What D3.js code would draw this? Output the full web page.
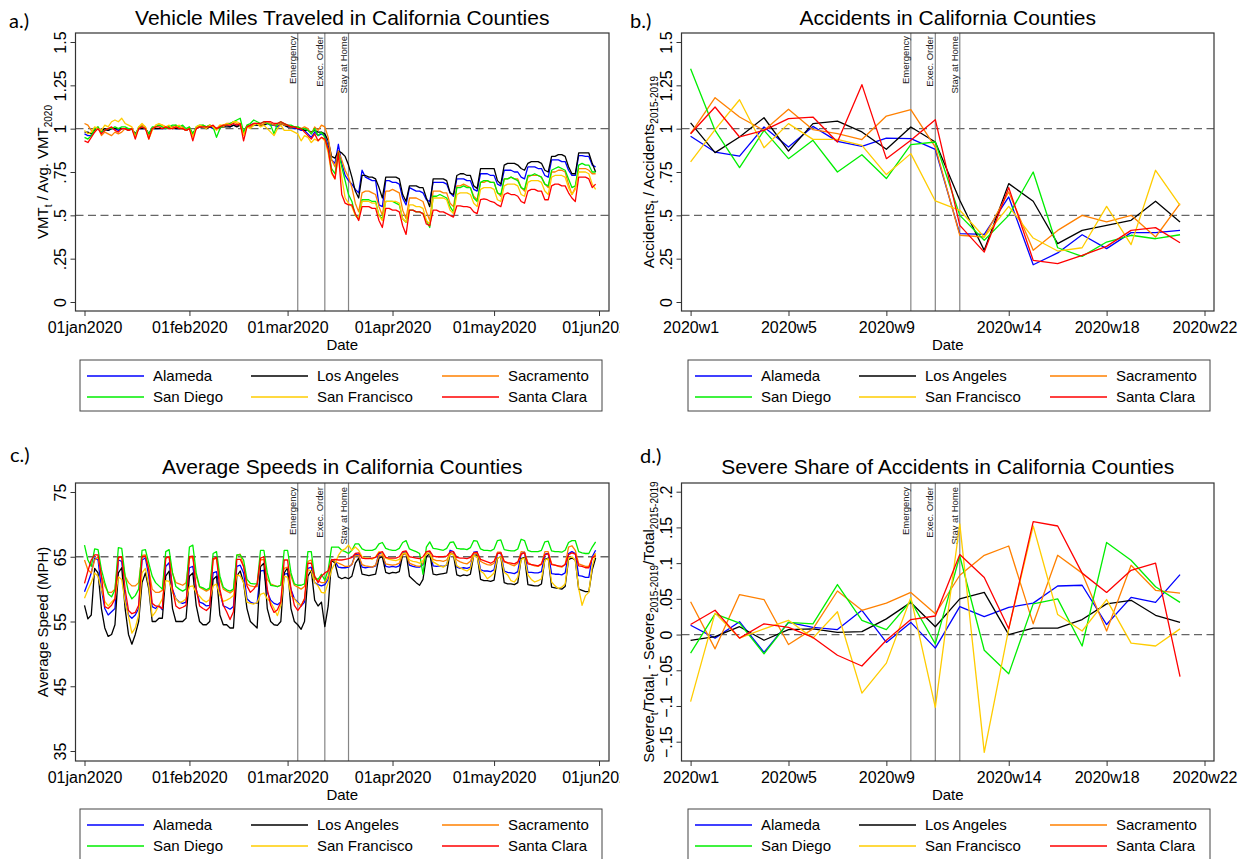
<!DOCTYPE html>
<html>
<head>
<meta charset="utf-8">
<script src="https://cdn.jsdelivr.net/npm/d3@7"></script>
<style>
  body { margin: 0; background: #fff; }
  svg text { font-family: "Liberation Sans", Arial, Helvetica, sans-serif; fill: #000; }
</style>
</head>
<body>
<svg id="chart" width="1238" height="859"></svg>
<script>
const counties = ['Alameda', 'Los Angeles', 'Sacramento', 'San Diego', 'San Francisco', 'Santa Clara'];
const colors = ['#0000ff', '#000000', '#ff8000', '#00ee00', '#ffcc00', '#ff0000'];

const weeks = [1, 2, 3, 4, 5, 6, 7, 8, 9, 10, 11, 12, 13, 14, 15, 16, 17, 18, 19, 20, 21];
const weekTicks = [1, 5, 9, 14, 18, 22];
const dateTicks = ['2020-01-01', '2020-02-01', '2020-03-01', '2020-04-01', '2020-05-01', '2020-06-01'];
const eventDates = ['2020-03-04', '2020-03-12', '2020-03-19'];
const eventWeeks = [10, 11, 12];
const eventNames = ['Emergency', 'Exec. Order', 'Stay at Home'];

// VMT relative to 2020 average, daily 01jan2020 - 31may2020
const vmtAlameda = [
  .97, .96, .96, .99, 1.00, .98, .99, .99, 1.00, 1.00, .99, 1.00, 1.00, .99, 1.00, .96, 1.00, 1.00, 1.00, .97,
  1.00, 1.00, 1.00, 1.00, 1.00, 1.01, 1.01, 1.00, 1.00, 1.01, .99, 1.00, .97, 1.00, 1.01, 1.01, 1.01, 1.01, 1.00, 1.00,
  1.01, 1.01, 1.02, 1.01, 1.02, 1.02, 1.02, .98, 1.01, 1.02, 1.03, 1.02, 1.02, 1.02, 1.03, 1.02, 1.02, 1.01, 1.03, 1.02,
  1.01, 1.01, 1.00, 1.00, .99, .99, .97, .95, .98, .96, .97, .96, .90, .82, .80, .91, .80, .73, .70, .68, .65, .63,
  .76, .72, .71, .70, .70, .56, .55,
  .70, .70, .69, .69, .68, .60, .56,
  .66, .65, .64, .64, .63, .59, .58,
  .69, .69, .69, .69, .68, .63, .61,
  .71, .71, .71, .70, .70, .65, .64,
  .74, .74, .74, .73, .73, .68, .67,
  .76, .76, .76, .75, .75, .72, .71,
  .78, .78, .78, .77, .77, .73, .72,
  .82, .82, .82, .81, .81, .76, .73,
  .73, .845, .845, .84, .84, .79, .78];
const vmtLosAngeles = [
  .98, .98, .97, .99, 1.00, .99, 1.00, .99, 1.00, 1.00, 1.00, 1.00, 1.00, .99, 1.00, .97, 1.00, 1.00, 1.00, .97,
  1.00, 1.00, 1.00, 1.00, 1.01, 1.01, 1.00, 1.00, 1.00, 1.00, .99, 1.00, .97, 1.00, 1.01, 1.01, 1.00, 1.01, 1.01, 1.00,
  1.01, 1.01, 1.01, 1.01, 1.02, 1.01, 1.02, .98, 1.01, 1.01, 1.02, 1.02, 1.02, 1.02, 1.03, 1.03, 1.02, 1.02, 1.03, 1.02,
  1.01, 1.01, 1.01, 1.00, 1.00, .99, .99, .98, .99, .98, .98, .97, .93, .84, .83, .87, .86, .84, .79, .72, .64, .60,
  .73, .73, .72, .72, .71, .66, .60,
  .72, .72, .72, .72, .71, .62, .58,
  .67, .67, .67, .66, .66, .60, .55,
  .71, .71, .71, .71, .70, .63, .62,
  .73, .74, .74, .73, .73, .67, .655,
  .77, .77, .77, .77, .77, .70, .68,
  .79, .80, .80, .80, .79, .77, .76,
  .80, .81, .81, .81, .80, .76, .75,
  .84, .84, .85, .85, .84, .78, .74,
  .74, .86, .86, .86, .86, .80, .75];
const vmtSacramento = [
  1.03, 1.02, .99, .98, 1.01, .96, .98, .97, .96, .98, .97, .98, 1.00, .99, 1.00, .96, 1.00, 1.02, 1.01, .95,
  1.00, 1.01, 1.02, 1.02, 1.01, 1.00, 1.01, 1.02, 1.00, 1.01, .99, 1.01, .96, 1.00, 1.01, 1.02, 1.01, 1.02, 1.01, 1.00,
  1.02, 1.01, 1.03, 1.03, 1.04, 1.03, 1.02, .97, 1.02, 1.01, 1.03, 1.03, 1.02, 1.03, 1.03, 1.03, 1.02, 1.02, 1.03, 1.02,
  1.02, 1.01, 1.01, 1.01, 1.00, 1.01, 1.00, .97, 1.01, .99, 1.02, 1.01, .95, .82, .78, .87, .82, .76, .72, .66, .57, .52,
  .63, .64, .64, .63, .62, .55, .50,
  .64, .64, .65, .64, .63, .53, .48,
  .60, .60, .60, .59, .58, .52, .47,
  .64, .64, .64, .63, .63, .57, .55,
  .67, .67, .68, .67, .66, .61, .59,
  .69, .69, .70, .69, .69, .63, .61,
  .71, .71, .72, .71, .71, .66, .64,
  .72, .73, .73, .73, .72, .68, .66,
  .75, .75, .76, .76, .75, .68, .62,
  .66, .77, .77, .77, .76, .74, .74];
const vmtSanDiego = [
  .95, .94, .96, 1.00, 1.01, .98, .99, 1.00, 1.00, 1.01, 1.00, 1.01, 1.01, 1.00, 1.00, .96, 1.01, 1.01, 1.00, .97,
  1.01, 1.01, 1.02, 1.01, 1.00, 1.01, 1.02, 1.02, 1.01, 1.02, 1.00, 1.01, .97, 1.01, 1.02, 1.02, 1.01, 1.02, 1.01, .95,
  1.00, 1.02, 1.02, 1.03, 1.04, 1.05, 1.06, .98, 1.02, 1.03, 1.05, 1.04, 1.03, 1.04, 1.03, 1.02, .97, 1.03, 1.04, 1.03,
  1.02, 1.02, 1.01, 1.01, 1.00, 1.00, .99, .97, 1.00, .96, .98, .95, .88, .77, .74, .86, .78, .70, .62, .58, .50, .48,
  .59, .59, .59, .58, .58, .50, .48,
  .58, .58, .58, .57, .56, .48, .46,
  .53, .53, .52, .52, .51, .47, .43,
  .61, .61, .62, .61, .60, .55, .52,
  .66, .66, .67, .66, .66, .60, .58,
  .69, .70, .70, .69, .69, .63, .62,
  .71, .71, .72, .71, .70, .66, .65,
  .73, .73, .74, .73, .72, .68, .67,
  .76, .77, .78, .77, .76, .71, .66,
  .67, .79, .80, .79, .79, .75, .75];
const vmtSanFrancisco = [
  .99, .97, .98, 1.01, 1.00, .99, 1.02, 1.01, 1.04, 1.05, 1.04, 1.06, 1.03, 1.02, 1.01, .95, 1.01, 1.03, 1.01, .94,
  .99, 1.02, 1.03, 1.02, 1.01, 1.02, 1.00, 1.01, 1.02, 1.00, .99, 1.00, .95, 1.01, 1.02, 1.01, 1.00, 1.02, 1.01, .99,
  1.02, 1.02, 1.03, 1.02, 1.04, 1.04, 1.03, .96, 1.01, 1.00, 1.02, 1.03, 1.01, 1.02, 1.00, .98, .96, 1.00, 1.02, .99,
  .99, .99, .98, .97, .93, .96, .95, .92, .94, .93, .95, .93, .86, .74, .71, .84, .72, .60, .57, .55, .50, .48,
  .58, .58, .58, .57, .57, .50, .47,
  .58, .58, .58, .58, .57, .48, .46,
  .56, .56, .55, .55, .54, .47, .45,
  .60, .60, .60, .60, .59, .53, .51,
  .62, .63, .63, .63, .62, .57, .55,
  .65, .66, .66, .66, .65, .59, .58,
  .67, .68, .68, .68, .67, .62, .61,
  .69, .70, .70, .70, .69, .64, .62,
  .72, .73, .73, .73, .72, .66, .62,
  .65, .75, .75, .75, .74, .68, .65];
const vmtSantaClara = [
  .93, .92, .95, .98, 1.00, .97, .99, 1.00, 1.01, .99, .98, 1.00, 1.00, .99, 1.00, .94, 1.00, 1.01, 1.00, .94,
  1.00, 1.01, 1.01, 1.00, 1.01, 1.00, 1.00, 1.01, 1.00, 1.00, .99, 1.00, .93, 1.00, 1.01, 1.01, 1.01, 1.01, 1.02, 1.00,
  1.01, 1.02, 1.02, 1.02, 1.03, 1.02, 1.03, .93, 1.01, 1.02, 1.03, 1.03, 1.03, 1.04, 1.04, 1.04, 1.03, 1.03, 1.04, 1.03,
  1.02, 1.01, 1.01, 1.00, 1.00, .98, .96, .94, .97, .93, .95, .94, .88, .75, .71, .86, .62, .57, .56, .56, .51, .47,
  .55, .55, .55, .54, .54, .47, .43,
  .54, .54, .53, .53, .52, .44, .39,
  .53, .53, .52, .52, .51, .45, .44,
  .53, .53, .52, .52, .51, .50, .49,
  .555, .555, .55, .55, .545, .52, .51,
  .59, .595, .59, .58, .575, .56, .55,
  .62, .63, .62, .62, .61, .58, .57,
  .64, .65, .65, .64, .64, .59, .59,
  .67, .68, .68, .67, .67, .63, .60,
  .58, .72, .72, .72, .71, .66, .68];

// average speed (MPH), daily 01jan2020 - 31may2020
const spdAlameda = [
  59.6, 61, 62.5, 64.8, 64.5,
  60, 57, 56, 56.5, 57, 64.5, 64.3,
  58.5, 56, 55.5, 56, 57, 64.5, 64.8,
  62, 57.3, 57, 57.5, 56.8, 63.5, 64.1,
  60, 58.5, 58, 57.8, 58, 63.3, 63.5,
  60, 58, 57.8, 57.4, 57.5, 62.5, 62.7,
  59.5, 57.4, 57.2, 56.9, 57.3, 63.5, 63.7,
  62.5, 58.5, 58, 57.8, 57.8, 62.8, 62.9,
  59.5, 58.3, 57.8, 57.6, 58, 62.3, 62.4,
  60, 58.5, 58, 57.4, 58, 63.2, 63.4,
  61, 60.7, 60.5, 60.7, 61.5, 64.6, 64.3,
  63.4, 63.3, 63.3, 63.4, 63.8, 65.4, 65.3,
  63.4, 63.3, 63.4, 63.4, 63.6, 65.5, 65.6,
  63.5, 63.4, 63.5, 63.4, 63.6, 65.6, 65.8,
  63.7, 63.5, 63.4, 63.4, 63.8, 65.8, 65.8,
  63.6, 63.5, 63.6, 63.5, 63.7, 66, 65.8,
  63.4, 63.2, 63.3, 63.2, 63.4, 65.7, 65.8,
  63, 62.8, 62.8, 62.7, 63, 65.5, 65.6,
  62.8, 62.6, 62.5, 62.4, 62.7, 65.5, 65.7,
  62.6, 62.6, 62.5, 62.5, 62.7, 65.4, 65.5,
  62.4, 62.3, 62.3, 62.2, 62.5, 65.5, 65.8,
  65.5, 62.1, 62, 61.8, 61.8, 65, 66];
const spdLosAngeles = [
  57.5, 55.4, 56, 63.2, 62.5,
  57, 54, 52.7, 53, 54.5, 62.5, 63.3,
  57, 53, 51.5, 53, 55, 61, 62.5,
  60, 55, 55, 55.5, 55.5, 62, 62.8,
  57, 55, 55, 55, 55.5, 62, 62.5,
  57.5, 55, 54.5, 54.5, 55, 61.5, 62,
  56, 54.5, 54.5, 54, 54, 62, 62.8,
  61, 57, 55, 54.5, 54, 63.5, 64,
  57, 55, 54.5, 54.4, 55, 62.5, 63.3,
  57, 55, 54.5, 53.8, 55, 62, 62.9,
  58.3, 57.4, 58, 54.2, 57.4, 64.5, 64,
  61.9, 61.6, 61.8, 61.6, 62, 64, 64.8,
  62.3, 62.2, 62.1, 62.2, 62.3, 64.8, 65,
  62.6, 62.4, 62.6, 62.5, 62.7, 65.3, 65.6,
  62, 61.5, 61, 60.6, 61.5, 65, 65.5,
  62.3, 62.2, 62.3, 62.4, 62.5, 65.6, 65.3,
  62.2, 62, 62.2, 62.1, 62.3, 65.2, 65.3,
  61.5, 61.3, 61.3, 61.2, 61.4, 64.8, 65,
  61, 60.8, 60.8, 60.7, 61, 64.7, 64.9,
  60.7, 60.6, 60.5, 60.5, 60.8, 64.6, 64.8,
  60.3, 60.2, 60.1, 60, 60.4, 64.6, 64.8,
  64.5, 60, 59.8, 59.6, 59.6, 63, 64.8];
const spdSacramento = [
  64.5, 63, 62.5, 64.5, 65,
  62, 60.5, 59.5, 59.5, 60, 64.8, 65,
  62, 61, 60.5, 60.5, 61, 65.2, 65.3,
  63, 60, 59.5, 59.5, 59.8, 64.8, 65,
  62.5, 61, 60.8, 60.6, 61, 64.8, 64.9,
  62, 60.3, 60, 59.7, 60, 64.5, 64.8,
  61.5, 60, 59.7, 59.4, 59.8, 65.2, 65.4,
  63.5, 60.8, 60.5, 60.4, 60.4, 64.5, 64.6,
  61.5, 60.8, 60.6, 60.4, 60.6, 63.2, 63.4,
  62, 60.6, 60.3, 60, 60.4, 64.3, 64.5,
  61.6, 61.3, 61, 61, 62, 64.5, 64.3,
  64, 63.8, 63.5, 63.5, 63.8, 65.2, 65.2,
  63.8, 63.6, 63.5, 63.4, 63.7, 65.2, 65.3,
  63.9, 63.8, 63.7, 63.8, 64, 65.4, 65.5,
  64, 63.8, 63.6, 63.5, 64, 65.5, 65.5,
  64.6, 64.4, 64.4, 64.3, 64.5, 65.5, 65.4,
  64.5, 64.2, 64, 63.9, 64.3, 65.6, 65.5,
  64.3, 64, 63.8, 63.7, 64, 65.7, 65.7,
  64.2, 64, 63.8, 63.6, 64, 65.8, 65.7,
  64.1, 63.8, 63.6, 63.5, 63.8, 65.8, 65.8,
  63.9, 63.7, 63.5, 63.4, 63.8, 66.5, 66.7,
  66, 63.9, 63.7, 63.5, 63.5, 64.8, 65.5];
const spdSanDiego = [
  66.8, 64.5, 63.5, 66.2, 66.1,
  63, 61, 59.3, 58.8, 59.9, 66.4, 66.3,
  62, 59.5, 58.5, 59, 60, 66, 66.1,
  64, 62, 61, 60.5, 60, 65.8, 66.1,
  62.5, 60.4, 60, 59.7, 60, 66.5, 66.8,
  62.5, 60.4, 60.2, 59.9, 60.2, 65.5, 65.8,
  62, 60.3, 59.9, 59.7, 60, 65.3, 65.3,
  64.5, 61.5, 60.9, 60.8, 60.8, 66, 66,
  62.5, 60.6, 60.5, 60.4, 60.6, 66, 66,
  62.5, 60.8, 60.6, 60.6, 60.8, 65.8, 65.8,
  61.8, 61.5, 62.3, 61.4, 63, 66.5, 66.5,
  66.5, 66, 65.8, 65.5, 66, 67, 67,
  66.2, 66, 66, 66, 66.2, 67, 67.2,
  66.3, 66.1, 66, 66, 66.3, 67.2, 67.5,
  66.2, 66, 65.8, 65.5, 62.3, 66.5, 67.3,
  66.3, 66.2, 66.1, 66, 66.3, 67.2, 67.3,
  66.3, 66.2, 66.2, 66.1, 66.4, 67.5, 67.4,
  66.2, 66, 66, 65.9, 66.2, 67.5, 67.6,
  66.1, 66, 65.9, 65.9, 66.2, 67.7, 67.5,
  66, 65.8, 65.8, 65.8, 66, 67.3, 67.4,
  65.9, 65.8, 65.8, 65.7, 66, 67.2, 67.5,
  67.5, 65.8, 65.6, 65.5, 65.5, 66.5, 67.3];
const spdSanFrancisco = [
  58.6, 59.9, 61, 62.5, 62,
  60, 58.1, 57.4, 58, 58.5, 61.9, 61.5,
  58, 55.8, 53.2, 54, 56, 62.5, 63.2,
  60.5, 55.8, 56.5, 57.5, 58.5, 61.3, 61.2,
  59.5, 58.5, 57.9, 58.1, 58.5, 60.4, 60.5,
  59.5, 58.9, 58.3, 58, 58.4, 60.5, 60.8,
  59, 58.1, 58.3, 58.6, 59, 62.2, 62,
  61, 58, 57.8, 57.7, 57.9, 59.2, 59.4,
  58.5, 58, 57, 55.9, 57.5, 62, 61.8,
  59, 58.5, 57.8, 57.5, 58.5, 63, 62.8,
  61, 60.5, 59.5, 59.4, 61, 63, 64,
  65.2, 66, 66.2, 66.8, 66, 66.5, 66,
  65, 64.8, 64.8, 64.6, 65, 65.8, 65.5,
  64.8, 64.6, 64.5, 64.4, 64.6, 65.5, 65.6,
  64.5, 64.3, 64.2, 64, 64.4, 65.6, 65.5,
  64.2, 63.9, 63.6, 63.4, 63.8, 65.5, 65.3,
  63.6, 63.3, 63, 62.8, 63.2, 65.2, 65,
  62.8, 62.4, 61.6, 62, 62.5, 64.8, 65,
  62.6, 62.2, 61.3, 61.1, 61.8, 64.6, 64.8,
  62.2, 61.5, 61.1, 61.3, 61.6, 64.5, 64.7,
  61.1, 60.5, 60.1, 60.3, 60.8, 64.8, 65,
  64.5, 60.1, 57.5, 59, 59.5, 63.5, 65.5];
const spdSantaClara = [
  60.9, 62.8, 64.5, 65.3, 65.3,
  62, 57.3, 57, 57.5, 58.5, 64.9, 65,
  60, 56.7, 56.2, 56.4, 57.5, 65, 65.1,
  63, 57.8, 57.4, 57.3, 57, 64.8, 65,
  60, 57.4, 57, 57.2, 57.5, 65, 65.1,
  60, 57.4, 57, 56.7, 57.2, 64.7, 64.9,
  60, 57.5, 56.5, 55.3, 56.5, 64.6, 64.6,
  63.5, 60.5, 59.5, 60, 60.8, 64.8, 65,
  60, 57.5, 56.4, 56.8, 58, 64.5, 64.5,
  60, 57.5, 56.7, 57.4, 58.5, 64, 64,
  62, 61, 62, 62.5, 62.8, 64.5, 64.6,
  64.5, 64.5, 64.6, 64.7, 64.9, 65.5, 65.6,
  64.8, 64.7, 64.7, 64.8, 64.9, 65.6, 65.8,
  64.9, 64.8, 64.8, 64.8, 65, 65.8, 65.9,
  65, 64.9, 64.8, 64.7, 65, 65.8, 65.9,
  65.1, 65, 65, 65, 65.1, 65.7, 65.8,
  64.9, 64.8, 64.8, 64.7, 64.9, 65.6, 65.7,
  64.6, 64.4, 64.2, 64, 64.3, 65.5, 65.6,
  64.3, 64.1, 64, 63.9, 64.2, 65.4, 65.6,
  63.9, 63.8, 63.7, 63.6, 63.9, 65.3, 65.5,
  63.8, 63.7, 63.6, 63.5, 63.8, 65.3, 65.6,
  65.4, 63.6, 63.5, 63.3, 63.3, 64.8, 65.2];

// accidents relative to 2015-2019, weekly 2020w1 - 2020w21
const accAlameda = [.956, .865, .842, 1.01, .894, 1.013, .927, .898, .946, .942, .88, .394, .39, .606, .215, .283, .388, .308, .40, .40, .413];
const accLosAngeles = [1.033, .862, .952, 1.063, .871, 1.029, 1.044, .981, .881, 1.01, .923, .587, .298, .683, .581, .337, .413, .442, .471, .581, .462];
const accSacramento = [.971, 1.179, 1.067, .99, 1.112, .994, .971, .937, 1.073, 1.11, .894, .385, .375, .635, .298, .413, .50, .462, .50, .375, .567];
const accSanDiego = [1.346, .99, .775, .99, .827, .933, .75, .85, .712, .908, .923, .50, .356, .50, .75, .313, .263, .346, .385, .365, .388];
const accSanFrancisco = [.808, .994, 1.167, .89, 1.029, .938, .938, .904, .735, .856, .583, .529, .375, .552, .369, .294, .313, .552, .331, .76, .558];
const accSantaClara = [.971, 1.125, .952, .99, 1.058, 1.067, .923, 1.254, .827, .933, 1.052, .442, .288, .66, .24, .221, .269, .321, .413, .429, .342];

// severe share difference, weekly 2020w1 - 2020w21
const sevAlameda = [.013, -.005, .018, -.025, .017, .010, .007, .034, -.011, .017, -.019, .039, .025, .038, .044, .068, .069, .014, .052, .045, .084];
const sevLosAngeles = [-.008, -.003, .011, -.008, .007, .008, .003, .004, .022, .045, .011, .050, .059, .000, .009, .009, .021, .043, .048, .027, .017];
const sevSacramento = [.046, -.020, .056, .049, -.014, .008, .061, .034, .044, .059, .029, .083, .111, .124, .015, .111, .086, .005, .097, .062, .058];
const sevSanDiego = [-.026, .029, .016, -.027, .017, .015, .070, .020, .007, .047, -.013, .110, -.022, -.055, .043, .050, -.016, .129, .104, .067, .045];
const sevSanFrancisco = [-.094, .030, -.005, .008, .020, -.005, .032, -.082, -.040, .052, -.102, .155, -.165, .008, .152, .028, .005, .049, -.012, -.016, .008];
const sevSantaClara = [.014, .034, -.005, .015, .010, -.004, -.029, -.044, -.008, .021, .026, .112, .080, .008, .158, .152, .086, .059, .090, .100, -.059];

const days = d3.utcDay.range(new Date(Date.UTC(2020, 0, 1)), new Date(Date.UTC(2020, 5, 1)));
const parse = d3.utcParse('%Y-%m-%d');
const fmtDate = d => d3.utcFormat('%d%b%Y')(d).toLowerCase();

const svg = d3.select('#chart');
svg.append('defs').append('clipPath').attr('id', 'clipLeft')
  .append('rect').attr('x', 0).attr('y', 0).attr('width', 620).attr('height', 859);

function drawPanel(cfg) {
  const g = svg.append('g');
  if (cfg.clip) g.attr('clip-path', 'url(#clipLeft)');
  const f = cfg.frame;
  const x = cfg.x;
  const y = cfg.y;

  // dashed reference lines
  g.selectAll('line.ref')
    .data(cfg.refs)
    .enter()
    .append('line')
    .attr('x1', f.left).attr('x2', f.right)
    .attr('y1', d => y(d)).attr('y2', d => y(d))
    .attr('stroke', '#666').attr('stroke-width', 1.3)
    .attr('stroke-dasharray', '8,4.5');

  // event lines with labels
  g.selectAll('line.event')
    .data(cfg.events)
    .enter()
    .append('line')
    .attr('x1', d => x(d)).attr('x2', d => x(d))
    .attr('y1', f.top).attr('y2', f.bottom)
    .attr('stroke', '#858585').attr('stroke-width', 1.2);

  g.selectAll('text.event')
    .data(cfg.events)
    .enter()
    .append('text')
    .attr('transform', d => `translate(${x(d) - 2},${f.top + cfg.evTop}) rotate(-90)`)
    .attr('text-anchor', 'end')
    .style('font-size', '9.5px')
    .style('fill', '#222')
    .text((d, i) => eventNames[i]);

  // series
  const line = d3.line()
    .x((d, i) => x(cfg.xs[i]))
    .y(d => y(d));
  cfg.series.forEach((s, i) => {
    g.append('path')
      .datum(s)
      .attr('fill', 'none')
      .attr('stroke', colors[i])
      .attr('stroke-width', 1.3)
      .attr('stroke-linejoin', 'round')
      .attr('d', line);
  });

  // frame
  g.append('rect')
    .attr('x', f.left).attr('y', f.top)
    .attr('width', f.right - f.left).attr('height', f.bottom - f.top)
    .attr('fill', 'none').attr('stroke', '#333').attr('stroke-width', 1.2);

  // y axis
  const ya = g.append('g')
    .attr('transform', `translate(${f.left},0)`)
    .call(d3.axisLeft(y).tickValues(cfg.yTicks).tickSize(5).tickFormat(cfg.yFmt));
  ya.select('.domain').remove();
  ya.selectAll('line').attr('stroke', '#333');
  ya.selectAll('text')
    .attr('x', null).attr('dy', null)
    .attr('transform', 'translate(-10,0) rotate(-90)')
    .attr('text-anchor', 'middle')
    .attr('fill', '#000')
    .style('font-size', '16px')
    .style('font-family', '"Liberation Sans", Arial, sans-serif');

  // x axis
  const xa = g.append('g')
    .attr('transform', `translate(0,${f.bottom})`)
    .call(d3.axisBottom(x).tickValues(cfg.xTicks).tickSize(5).tickFormat(cfg.xFmt));
  xa.select('.domain').remove();
  xa.selectAll('line').attr('stroke', '#333');
  xa.selectAll('text')
    .attr('y', 22).attr('dy', null)
    .attr('fill', '#000')
    .style('font-size', '16px')
    .style('font-family', '"Liberation Sans", Arial, sans-serif');

  const cx = (f.left + f.right) / 2;
  const cy = (f.top + f.bottom) / 2;

  g.append('text')
    .attr('x', cx).attr('y', f.bottom + 39)
    .attr('text-anchor', 'middle')
    .style('font-size', '15px')
    .text('Date');

  g.append('text')
    .attr('x', cx).attr('y', cfg.titleY)
    .attr('text-anchor', 'middle')
    .style('font-size', '21px')
    .text(cfg.title);

  svg.append('text')
    .attr('x', cfg.tag[1]).attr('y', cfg.tag[2])
    .style('font-family', 'Lato, "Open Sans", sans-serif')
    .style('font-size', '20px')
    .text(cfg.tag[0]);

  // y axis title with subscripts
  const yt = g.append('text')
    .attr('transform', `translate(${f.left - 28},${cy}) rotate(-90)`)
    .attr('text-anchor', 'middle')
    .style('font-size', '15px');
  let down = false;
  cfg.yTitle.forEach(([t, sub]) => {
    const ts = yt.append('tspan').text(t);
    if (sub && !down) { ts.attr('dy', 4).style('font-size', '10px'); down = true; }
    else if (sub) { ts.style('font-size', '10px'); }
    else if (down) { ts.attr('dy', -4); down = false; }
  });

  // legend
  const lg = g.append('g').attr('transform', `translate(${cfg.legend[0]},${cfg.legend[1]})`);
  lg.append('rect')
    .attr('x', 0).attr('y', 0).attr('width', 522).attr('height', 51)
    .attr('fill', '#fff').attr('stroke', '#444').attr('stroke-width', 1);
  const colX = [0, 164, 355];
  counties.forEach((name, i) => {
    const cxl = colX[i % 3];
    const ry = i < 3 ? 16 : 37;
    lg.append('line')
      .attr('x1', cxl + 7).attr('x2', cxl + 64)
      .attr('y1', ry).attr('y2', ry)
      .attr('stroke', colors[i]).attr('stroke-width', 1.3);
    lg.append('text')
      .attr('x', cxl + 73).attr('y', ry).attr('dy', '0.36em')
      .style('font-size', '15px')
      .text(name);
  });
}

const frameA = { left: 75.5, right: 609, top: 33, bottom: 311 };
const frameB = { left: 681.5, right: 1214, top: 33, bottom: 311 };
const frameC = { left: 75.5, right: 609, top: 483, bottom: 761 };
const frameD = { left: 681.5, right: 1214, top: 483, bottom: 761 };

const xDay = r => d3.scaleUtc().domain([parse(dateTicks[0]), parse(dateTicks[5])]).range(r);
const xWeek = r => d3.scaleLinear().domain([1, 22]).range(r);
const ratioTicks = [0, .25, .5, .75, 1, 1.25, 1.5];
const ratioFmt = d => d3.format('.2~f')(d).replace(/^0\./, '.');
const fmtSev = d => d === 0 ? '0' : d3.format('.2~f')(d).replace('0.', '.');

drawPanel({
  frame: frameA, clip: true,
  x: xDay([84.5, 599]),
  y: d3.scaleLinear().domain([0, 1.5]).range([302, 42]),
  xs: days,
  series: [vmtAlameda, vmtLosAngeles, vmtSacramento, vmtSanDiego, vmtSanFrancisco, vmtSantaClara],
  refs: [1, .5],
  events: eventDates.map(parse), evTop: 3,
  yTicks: ratioTicks, yFmt: ratioFmt,
  xTicks: dateTicks.map(parse), xFmt: fmtDate,
  title: 'Vehicle Miles Traveled in California Counties', titleY: 25,
  tag: ['a.)', 9, 28],
  yTitle: [['VMT', 0], ['t', 1], [' / Avg. VMT', 0], ['2020', 1]],
  legend: [80, 360]
});

drawPanel({
  frame: frameB, clip: false,
  x: xWeek([690.6, 1204.5]),
  y: d3.scaleLinear().domain([0, 1.5]).range([302, 42]),
  xs: weeks,
  series: [accAlameda, accLosAngeles, accSacramento, accSanDiego, accSanFrancisco, accSantaClara],
  refs: [1, .5],
  events: eventWeeks, evTop: 3,
  yTicks: ratioTicks, yFmt: ratioFmt,
  xTicks: weekTicks, xFmt: d => '2020w' + d,
  title: 'Accidents in California Counties', titleY: 25,
  tag: ['b.)', 630, 28],
  yTitle: [['Accidents', 0], ['t', 1], [' / Accidents', 0], ['2015-2019', 1]],
  legend: [688, 360]
});

drawPanel({
  frame: frameC, clip: true,
  x: xDay([84.5, 599]),
  y: d3.scaleLinear().domain([35, 75]).range([751, 492]),
  xs: days,
  series: [spdAlameda, spdLosAngeles, spdSacramento, spdSanDiego, spdSanFrancisco, spdSantaClara],
  refs: [65],
  events: eventDates.map(parse), evTop: 4,
  yTicks: [35, 45, 55, 65, 75], yFmt: d3.format('d'),
  xTicks: dateTicks.map(parse), xFmt: fmtDate,
  title: 'Average Speeds in California Counties', titleY: 474,
  tag: ['c.)', 10, 462],
  yTitle: [['Average Speed (MPH)', 0]],
  legend: [80, 809]
});

drawPanel({
  frame: frameD, clip: false,
  x: xWeek([690.6, 1204.5]),
  y: d3.scaleLinear().domain([-.15, .2]).range([741.7, 491.7]),
  xs: weeks,
  series: [sevAlameda, sevLosAngeles, sevSacramento, sevSanDiego, sevSanFrancisco, sevSantaClara],
  refs: [0],
  events: eventWeeks, evTop: 4,
  yTicks: [-.15, -.1, -.05, 0, .05, .1, .15, .2], yFmt: fmtSev,
  xTicks: weekTicks, xFmt: d => '2020w' + d,
  title: 'Severe Share of Accidents in California Counties', titleY: 474,
  tag: ['d.)', 640, 463],
  yTitle: [['Severe', 0], ['t', 1], ['/Total', 0], ['t', 1], [' - Severe', 0], ['2015-2019', 1], ['/Total', 0], ['2015-2019', 1]],
  legend: [688, 809]
});
</script>
</body>
</html>
